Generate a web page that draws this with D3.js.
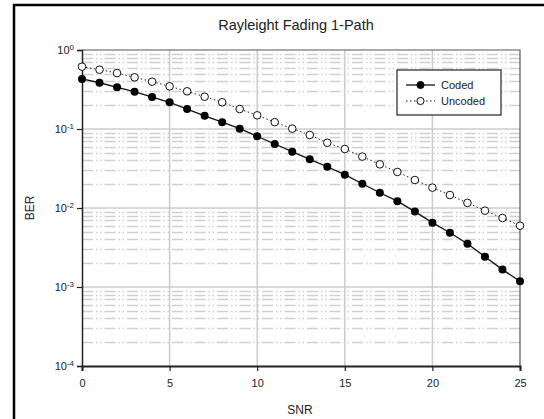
<!DOCTYPE html>
<html>
<head>
<meta charset="utf-8">
<script src="https://cdn.jsdelivr.net/npm/d3@7"></script>
<style>
  html, body { margin: 0; padding: 0; background: #fff; }
  svg { display: block; font-family: "Liberation Sans", Arial, sans-serif; }
</style>
</head>
<body>
<svg id="chart" width="544" height="419"></svg>
<script>
// BER vs SNR, Rayleigh fading single path

const snr = d3.range(0, 26);
const coded = [0.43, 0.385, 0.337, 0.297, 0.254, 0.218, 0.179, 0.147, 0.122, 0.101,
  0.081, 0.0646, 0.0516, 0.0413, 0.0333, 0.0264, 0.0203, 0.0156, 0.0122, 0.0090,
  0.00652, 0.00487, 0.00353, 0.00242, 0.00166, 0.00118];
const uncoded = [0.615, 0.563, 0.511, 0.451, 0.397, 0.347, 0.300, 0.256, 0.218, 0.179,
  0.149, 0.122, 0.101, 0.084, 0.067, 0.0558, 0.0447, 0.0357, 0.0286, 0.0226,
  0.0181, 0.0146, 0.0116, 0.00925, 0.00747, 0.00597];
const xTicks = [0, 5, 10, 15, 20, 25];
const yExps = [0, -1, -2, -3, -4];

const margin = { left: 82, top: 50, right: 520, bottom: 366 };
const svg = d3.select('#chart');

const x = d3.scaleLinear().domain([0, 25]).range([margin.left, margin.right]);
const y = d3.scaleLog().domain([1e-4, 1]).range([margin.bottom, margin.top]);

// outer frame (only top and left edges are in view)
svg.append('path')
  .attr('d', `M14,419 V5 H544`)
  .attr('fill', 'none')
  .attr('stroke', '#000')
  .attr('stroke-width', 2.5);

// minor horizontal grid
const minors = [];
yExps.slice(1).forEach(e => {
  for (let k = 2; k <= 9; k++) minors.push(k * Math.pow(10, e));
});
svg.append('g')
  .selectAll('line')
  .data(minors)
  .join('line')
    .attr('x1', margin.left).attr('x2', margin.right)
    .attr('y1', d => Math.round(y(d)) + 0.5).attr('y2', d => Math.round(y(d)) + 0.5)
    .attr('stroke', '#d0d0d0')
    .attr('stroke-width', 1.5)
    .attr('stroke-dasharray', '11,3,1.5,2.5,1.5,3');

// major grid
svg.append('g')
  .selectAll('line')
  .data(yExps.slice(1, 4))
  .join('line')
    .attr('x1', margin.left).attr('x2', margin.right)
    .attr('y1', d => y(Math.pow(10, d))).attr('y2', d => y(Math.pow(10, d)))
    .attr('stroke', '#cccccc')
    .attr('stroke-width', 1.5);

svg.append('g')
  .selectAll('line')
  .data(xTicks.slice(1, 5))
  .join('line')
    .attr('x1', d => x(d)).attr('x2', d => x(d))
    .attr('y1', margin.top).attr('y2', margin.bottom)
    .attr('stroke', '#cccccc')
    .attr('stroke-width', 1.5);

// plot frame
svg.append('path')
  .attr('d', `M${margin.left},${margin.top} H${margin.right} V${margin.bottom}`)
  .attr('fill', 'none')
  .attr('stroke', '#555')
  .attr('stroke-width', 1.2);

// axes
const xAxis = d3.axisBottom(x).tickValues(xTicks).tickSize(5).tickFormat(d3.format('d'));
const gx = svg.append('g')
  .attr('transform', `translate(0,${margin.bottom})`)
  .call(xAxis);
gx.select('.domain').attr('stroke', '#222').attr('stroke-width', 2);
gx.selectAll('.tick line').attr('stroke', '#222').attr('stroke-width', 1.2);
gx.selectAll('.tick text')
  .attr('dy', '0.35em')
  .attr('y', 17)
  .style('font-family', '"Liberation Sans", Arial, sans-serif')
  .style('font-size', '11px')
  .attr('fill', '#222');

const yAxis = d3.axisLeft(y).tickValues(yExps.map(e => Math.pow(10, e))).tickSize(5).tickFormat('');
const gy = svg.append('g')
  .attr('transform', `translate(${margin.left},0)`)
  .call(yAxis);
gy.select('.domain').attr('stroke', '#222').attr('stroke-width', 1.5);
gy.selectAll('.tick line').attr('stroke', '#222').attr('stroke-width', 1.2);

const yl = svg.append('g')
  .selectAll('text')
  .data(yExps)
  .join('text')
    .attr('x', 74)
    .attr('y', d => y(Math.pow(10, d)) + 4)
    .attr('text-anchor', 'end')
    .attr('fill', '#222')
    .style('font-size', '11px');
yl.append('tspan').text('10');
yl.append('tspan')
  .attr('dy', -4)
  .style('font-size', '8px')
  .text(d => d === 0 ? '0' : '-' + Math.abs(d));

// series
const line = d3.line().x((d, i) => x(snr[i])).y(d => y(d));

svg.append('path')
  .datum(uncoded)
  .attr('d', line)
  .attr('fill', 'none')
  .attr('stroke', '#222')
  .attr('stroke-width', 1)
  .attr('stroke-dasharray', '1.5,2.5');

svg.append('path')
  .datum(coded)
  .attr('d', line)
  .attr('fill', 'none')
  .attr('stroke', '#111')
  .attr('stroke-width', 1.3);

svg.append('g')
  .selectAll('circle')
  .data(uncoded)
  .join('circle')
    .attr('cx', (d, i) => x(snr[i]))
    .attr('cy', d => y(d))
    .attr('r', 3.8)
    .attr('fill', '#fff')
    .attr('stroke', '#111')
    .attr('stroke-width', 1);

svg.append('g')
  .selectAll('circle')
  .data(coded)
  .join('circle')
    .attr('cx', (d, i) => x(snr[i]))
    .attr('cy', d => y(d))
    .attr('r', 4)
    .attr('fill', '#000');

// title and axis labels
svg.append('text')
  .attr('x', 296).attr('y', 30)
  .attr('text-anchor', 'middle')
  .style('font-size', '14.5px')
  .attr('fill', '#222')
  .text('Rayleight Fading 1-Path');

svg.append('text')
  .attr('x', 300).attr('y', 414)
  .attr('text-anchor', 'middle')
  .style('font-size', '12px')
  .attr('fill', '#222')
  .text('SNR');

svg.append('text')
  .attr('transform', `translate(34,${(margin.top + margin.bottom) / 2}) rotate(-90)`)
  .attr('text-anchor', 'middle')
  .style('font-size', '12px')
  .attr('fill', '#222')
  .text('BER');

// legend
const legend = svg.append('g').attr('transform', 'translate(397,70)');
legend.append('rect')
  .attr('width', 104).attr('height', 45)
  .attr('fill', '#fff')
  .attr('stroke', '#222')
  .attr('stroke-width', 1.2);

const items = [
  { name: 'Coded', dash: null, fill: '#000' },
  { name: 'Uncoded', dash: '1.5,2.5', fill: '#fff' }
];
items.forEach((it, i) => {
  const row = legend.append('g').attr('transform', `translate(0,${15 + i * 16})`);
  row.append('line')
    .attr('x1', 9).attr('x2', 38)
    .attr('stroke', '#111')
    .attr('stroke-width', it.dash ? 1 : 1.3)
    .attr('stroke-dasharray', it.dash);
  row.append('circle')
    .attr('cx', 23.5).attr('r', 3.6)
    .attr('fill', it.fill)
    .attr('stroke', '#111');
  row.append('text')
    .attr('x', 44).attr('y', 4)
    .style('font-size', '11px')
    .attr('fill', '#222')
    .text(it.name);
});
</script>
</body>
</html>
